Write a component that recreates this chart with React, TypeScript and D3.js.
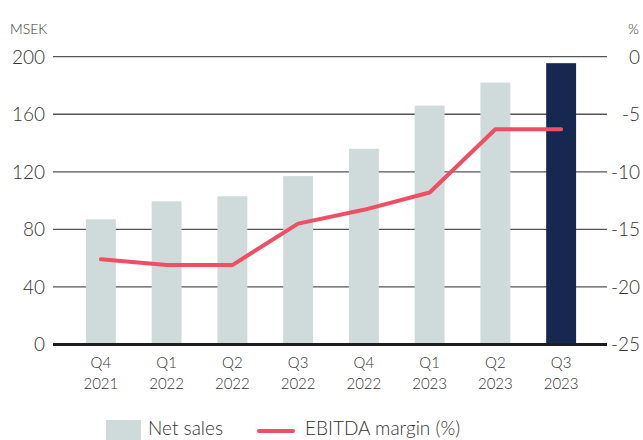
import React from "react";
import * as d3 from "d3";

const quarters = ["Q4", "Q1", "Q2", "Q3", "Q4", "Q1", "Q2", "Q3"];
const years = ["2021", "2022", "2022", "2022", "2022", "2023", "2023", "2023"];
const netSales = [87, 99.5, 103, 117, 136, 166, 182, 195.5];
const ebitdaMargin = [-17.6, -18.1, -18.1, -14.5, -13.3, -11.8, -6.3, -6.3];
const leftTicks = [0, 40, 80, 120, 160, 200];
const rightTicks = [0, -5, -10, -15, -20, -25];

const W = 643;
const H = 440;
const FONT = "Lato, 'Open Sans', sans-serif";

export default function App() {
  const keys = quarters.map((q, i) => `${q} ${years[i]}`);
  const x = d3.scaleBand<string>().domain(keys).range([68, 594]).paddingInner(0.545).paddingOuter(0.2725);
  const y = d3.scaleLinear().domain([0, 200]).range([344.5, 56.7]);
  const y2 = d3.scaleLinear().domain([-25, 0]).range([344.5, 56.7]);
  const cx = (i: number) => (x(keys[i]) as number) + x.bandwidth() / 2;

  const line = d3
    .line<number>()
    .x((_, i) => cx(i))
    .y((d) => y2(d));

  return (
    <div style={{ position: "absolute", left: 0, top: 0, width: W, height: H, background: "#fff", overflow: "hidden" }}>
      <svg width={W} height={H} style={{ display: "block", fontFamily: FONT }}>
        <text x={10} y={34} fontSize={14} fill="#333" fontWeight={300}>MSEK</text>
        <text x={639} y={34} fontSize={14} fill="#333" textAnchor="end" fontWeight={300}>%</text>

        {leftTicks.map((t) => (
          <g key={t}>
            {t !== 0 && (
              <line x1={53} x2={607} y1={y(t)} y2={y(t)} stroke="#555" strokeWidth={1.3} />
            )}
            <text x={45} y={y(t)} dy="0.36em" textAnchor="end" fontSize={19} fill="#333" fontWeight={300}>
              {t}
            </text>
          </g>
        ))}
        {rightTicks.map((t) => (
          <text key={t} x={640} y={y2(t)} dy="0.36em" textAnchor="end" fontSize={19} fill="#333" fontWeight={300}>
            {t}
          </text>
        ))}

        {netSales.map((v, i) => (
          <rect
            key={i}
            x={x(keys[i])}
            y={y(v)}
            width={x.bandwidth()}
            height={y(0) - y(v)}
            fill={i === netSales.length - 1 ? "#16284f" : "#cfdbda"}
          />
        ))}

        <line x1={53} x2={607} y1={y(0)} y2={y(0)} stroke="#1e1e1e" strokeWidth={3} />

        <path
          d={line(ebitdaMargin) ?? ""}
          fill="none"
          stroke="#ef4f63"
          strokeWidth={4}
          strokeLinejoin="round"
          strokeLinecap="round"
        />

        {keys.map((k, i) => (
          <text key={k} x={cx(i)} textAnchor="middle" fontSize={15} fill="#333" fontWeight={300}>
            <tspan x={cx(i)} y={368}>{quarters[i]}</tspan>
            <tspan x={cx(i)} y={389}>{years[i]}</tspan>
          </text>
        ))}

        <rect x={106} y={420} width={35} height={20} fill="#cfdbda" />
        <text x={148} y={435} fontSize={19} fill="#333" fontWeight={300}>Net sales</text>
        <line x1={259} x2={293} y1={431} y2={431} stroke="#ef4f63" strokeWidth={4} strokeLinecap="round" />
        <text x={305} y={435} fontSize={19} fill="#333" fontWeight={300}>EBITDA margin (%)</text>
      </svg>
    </div>
  );
}
